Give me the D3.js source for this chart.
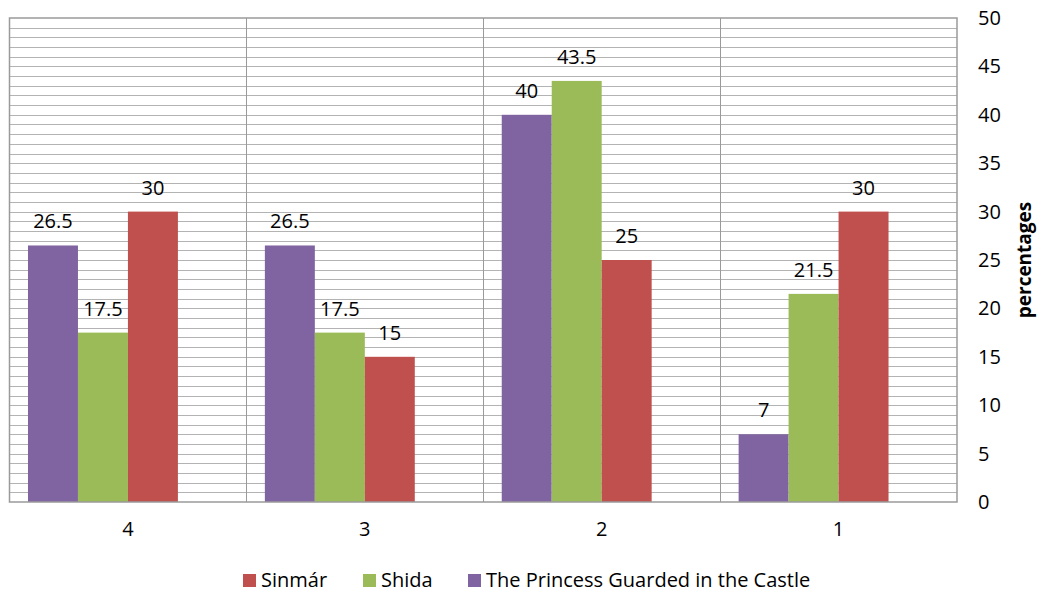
<!DOCTYPE html>
<html>
<head>
<meta charset="utf-8">
<script src="https://cdn.jsdelivr.net/npm/d3@7"></script>
<style>
  body { margin: 0; background: #fff; }
  svg text { font-family: "Open Sans", "Noto Sans", sans-serif; fill: #000; }
</style>
</head>
<body>
<svg id="chart" width="1041" height="594"></svg>
<script>
// chart values
const categories = ["4", "3", "2", "1"];
const princess = [26.5, 26.5, 40, 7];
const shida = [17.5, 17.5, 43.5, 21.5];
const sinmar = [30, 15, 25, 30];
const yTicks = [0, 5, 10, 15, 20, 25, 30, 35, 40, 45, 50];

// series in drawing order; the 4th slot is an empty series in the source chart
const series = [
    {key: "princess", name: "The Princess Guarded in the Castle", values: princess, color: "#8064A2"},
    {key: "shida", name: "Shida", values: shida, color: "#9BBB59"},
    {key: "sinmar", name: "Sinmár", values: sinmar, color: "#C0504D"}
];
const slots = ["princess", "shida", "sinmar", "empty"];

let svg = d3.select("#chart");
let padding = {top: 18, right: 84, bottom: 92, left: 9.5};
let width = +svg.attr("width");
let height = +svg.attr("height");

let xScale = d3.scaleBand()
                .domain(categories)
                .range([padding.left, width - padding.right])
                .paddingInner(0)
                .paddingOuter(0);

let inner = d3.scaleBand()
                .domain(slots)
                .range([0, xScale.bandwidth()])
                .paddingInner(0)
                .paddingOuter(0.37);

let yScale = d3.scaleLinear()
                .domain([0, 50])
                .range([height - padding.bottom, padding.top]);

// minor gridlines every 1 unit
let grid = svg.append("g");
grid.selectAll("line")
    .data(d3.range(1, 50))
    .enter()
    .append("line")
        .attr("x1", padding.left)
        .attr("x2", width - padding.right)
        .attr("y1", d => Math.round(yScale(d)) + 0.5)
        .attr("y2", d => Math.round(yScale(d)) + 0.5)
        .attr("stroke", "#b3b3b3")
        .attr("stroke-width", 1);

// category separators
grid.selectAll(".sep")
    .data(categories.slice(1))
    .enter()
    .append("line")
        .attr("x1", d => Math.round(xScale(d)) + 0.5)
        .attr("x2", d => Math.round(xScale(d)) + 0.5)
        .attr("y1", padding.top)
        .attr("y2", height - padding.bottom)
        .attr("stroke", "#9a9a9a");

// bars
let groups = svg.selectAll(".grp")
    .data(series)
    .enter()
    .append("g");

groups.selectAll("rect")
    .data(s => s.values.map((v, i) => ({s: s, v: v, cat: categories[i]})))
    .enter()
    .append("rect")
        .attr("x", d => xScale(d.cat) + inner(d.s.key))
        .attr("width", inner.bandwidth())
        .attr("y", d => yScale(d.v))
        .attr("height", d => yScale(0) - yScale(d.v))
        .attr("fill", d => d.s.color);

groups.selectAll("text")
    .data(s => s.values.map((v, i) => ({s: s, v: v, cat: categories[i]})))
    .enter()
    .append("text")
        .attr("x", d => xScale(d.cat) + inner(d.s.key) + inner.bandwidth() / 2)
        .attr("y", d => yScale(d.v) - 17)
        .style("text-anchor", "middle")
        .style("font-size", "20px")
        .text(d => d.v);

// plot border
svg.append("rect")
    .attr("x", padding.left)
    .attr("y", padding.top)
    .attr("width", width - padding.right - padding.left)
    .attr("height", height - padding.bottom - padding.top)
    .attr("fill", "none")
    .attr("stroke", "#9a9a9a")
    .attr("stroke-width", 1.5);

// y axis (right)
let yAxis = d3.axisRight(yScale).tickValues(yTicks).tickSize(0).tickPadding(0);
svg.append("g")
    .attr("transform", "translate(" + (width - padding.right + 21) + ",0)")
    .call(yAxis)
    .call(g => g.select(".domain").remove())
    .call(g => g.selectAll("text")
        .style("font-size", "20px")
        .style("font-family", "\"Open Sans\", sans-serif"));

svg.append("text")
    .attr("transform", "rotate(-90)")
    .attr("x", -260)
    .attr("y", 1031)
    .style("text-anchor", "middle")
    .style("font-size", "19px")
    .style("font-weight", "bold")
    .text("percentages");

// x axis
let xAxis = d3.axisBottom(xScale).tickSize(0).tickPadding(0);
svg.append("g")
    .attr("transform", "translate(0," + (height - padding.bottom + 20) + ")")
    .call(xAxis)
    .call(g => g.select(".domain").remove())
    .call(g => g.selectAll("text")
        .style("font-size", "20px")
        .style("font-family", "\"Open Sans\", sans-serif"));

// legend
const legendItems = [series[2], series[1], series[0]];
const legendX = [243, 363, 468];
let legend = svg.append("g");
let li = legend.selectAll("g")
    .data(legendItems)
    .enter()
    .append("g")
        .attr("transform", (d, i) => "translate(" + legendX[i] + ",574)");
li.append("rect")
    .attr("width", 13)
    .attr("height", 13)
    .attr("fill", d => d.color);
li.append("text")
    .attr("x", 18)
    .attr("y", 13)
    .style("font-size", "20px")
    .text(d => d.name);
</script>
</body>
</html>
